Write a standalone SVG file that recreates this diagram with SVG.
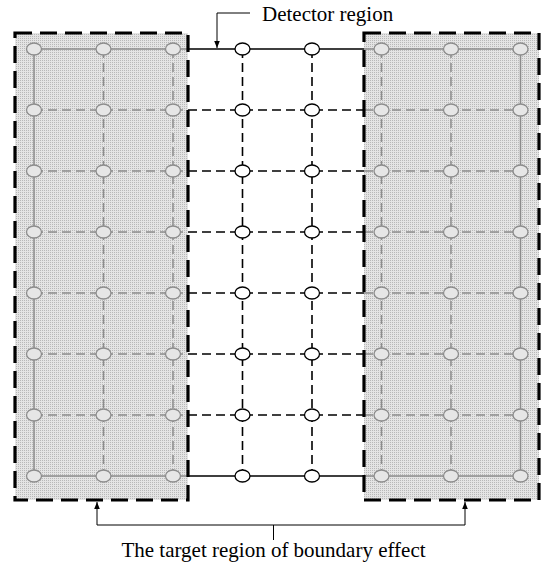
<svg xmlns="http://www.w3.org/2000/svg" width="547" height="570" viewBox="0 0 547 570">
<style>
.shade{fill:url(#dots);stroke:none}
.box{fill:none;stroke:#000;stroke-width:3.2;stroke-dasharray:17 8}
.gs{stroke:#8c8c8c;stroke-width:1.5;fill:none}
.gd{stroke:#8c8c8c;stroke-width:1.5;fill:none;stroke-dasharray:9 5}
.bs{stroke:#000;stroke-width:1.5;fill:none}
.bd{stroke:#000;stroke-width:1.6;fill:none;stroke-dasharray:9 5}
.gn{fill:#e6e6e6;stroke:#8c8c8c;stroke-width:1.3}
.wn{fill:#fff;stroke:#000;stroke-width:1.3}
.lead{stroke:#000;stroke-width:1;fill:none}
</style>
<defs>
<pattern id="dots" width="2" height="2" patternUnits="userSpaceOnUse">
<rect width="2" height="2" fill="#e4e4e4"/>
<rect width="1" height="1" fill="#b8b8b8"/>
</pattern>
<marker id="ah" viewBox="0 0 10 10" refX="10" refY="5" markerWidth="7" markerHeight="7" orient="auto" markerUnits="userSpaceOnUse">
<path d="M0,1 L10,5 L0,9 Z" fill="#000"/>
</marker>
</defs>
<rect width="547" height="570" fill="#fff"/>
<g id="boundary-left">
<rect class="shade" x="15" y="33" width="173" height="467"/>
</g>
<g id="boundary-right">
<rect class="shade" x="364" y="33" width="175" height="467"/>
</g>
<g id="connectors">
<path class="gs" d="M34,49 H188 M34,476 H188 M34,49 V476"/>
<path class="gd" d="M34,110 H188 M34,171 H188 M34,232 H188 M34,293 H188 M34,354 H188 M34,415 H188"/>
<path class="gd" d="M103.5,49 V476 M173,49 V476"/>
<path class="gs" d="M364,49 H520.5 M364,476 H520.5 M520.5,49 V476"/>
<path class="gd" d="M364,110 H520.5 M364,171 H520.5 M364,232 H520.5 M364,293 H520.5 M364,354 H520.5 M364,415 H520.5"/>
<path class="gd" d="M381.5,49 V476 M451,49 V476"/>
<path class="bs" d="M188,49 H364 M188,476 H364"/>
<path class="bd" d="M188,110 H364 M188,171 H364 M188,232 H364 M188,293 H364 M188,354 H364 M188,415 H364"/>
<path class="bd" d="M242.5,49 V476 M312,49 V476"/>
<path class="lead" d="M250,13 H217 V48" marker-end="url(#ah)"/>
<path class="lead" d="M273.5,540 V525 M97,525 H465"/>
<path class="lead" d="M97,525 V502" marker-end="url(#ah)"/>
<path class="lead" d="M465,525 V502" marker-end="url(#ah)"/>
</g>
<g id="boxes">
<rect class="box" x="15" y="33" width="173" height="467"/>
<rect class="box" x="364" y="33" width="175" height="467"/>
</g>
<g id="nodes-left">
<ellipse class="gn" cx="34" cy="49" rx="7.5" ry="6"/><ellipse class="gn" cx="103.5" cy="49" rx="7.5" ry="6"/><ellipse class="gn" cx="173" cy="49" rx="7.5" ry="6"/>
<ellipse class="gn" cx="34" cy="110" rx="7.5" ry="6"/><ellipse class="gn" cx="103.5" cy="110" rx="7.5" ry="6"/><ellipse class="gn" cx="173" cy="110" rx="7.5" ry="6"/>
<ellipse class="gn" cx="34" cy="171" rx="7.5" ry="6"/><ellipse class="gn" cx="103.5" cy="171" rx="7.5" ry="6"/><ellipse class="gn" cx="173" cy="171" rx="7.5" ry="6"/>
<ellipse class="gn" cx="34" cy="232" rx="7.5" ry="6"/><ellipse class="gn" cx="103.5" cy="232" rx="7.5" ry="6"/><ellipse class="gn" cx="173" cy="232" rx="7.5" ry="6"/>
<ellipse class="gn" cx="34" cy="293" rx="7.5" ry="6"/><ellipse class="gn" cx="103.5" cy="293" rx="7.5" ry="6"/><ellipse class="gn" cx="173" cy="293" rx="7.5" ry="6"/>
<ellipse class="gn" cx="34" cy="354" rx="7.5" ry="6"/><ellipse class="gn" cx="103.5" cy="354" rx="7.5" ry="6"/><ellipse class="gn" cx="173" cy="354" rx="7.5" ry="6"/>
<ellipse class="gn" cx="34" cy="415" rx="7.5" ry="6"/><ellipse class="gn" cx="103.5" cy="415" rx="7.5" ry="6"/><ellipse class="gn" cx="173" cy="415" rx="7.5" ry="6"/>
<ellipse class="gn" cx="34" cy="476" rx="7.5" ry="6"/><ellipse class="gn" cx="103.5" cy="476" rx="7.5" ry="6"/><ellipse class="gn" cx="173" cy="476" rx="7.5" ry="6"/>
</g>
<g id="nodes-detector">
<ellipse class="wn" cx="242.5" cy="49" rx="7.5" ry="6"/><ellipse class="wn" cx="312" cy="49" rx="7.5" ry="6"/>
<ellipse class="wn" cx="242.5" cy="110" rx="7.5" ry="6"/><ellipse class="wn" cx="312" cy="110" rx="7.5" ry="6"/>
<ellipse class="wn" cx="242.5" cy="171" rx="7.5" ry="6"/><ellipse class="wn" cx="312" cy="171" rx="7.5" ry="6"/>
<ellipse class="wn" cx="242.5" cy="232" rx="7.5" ry="6"/><ellipse class="wn" cx="312" cy="232" rx="7.5" ry="6"/>
<ellipse class="wn" cx="242.5" cy="293" rx="7.5" ry="6"/><ellipse class="wn" cx="312" cy="293" rx="7.5" ry="6"/>
<ellipse class="wn" cx="242.5" cy="354" rx="7.5" ry="6"/><ellipse class="wn" cx="312" cy="354" rx="7.5" ry="6"/>
<ellipse class="wn" cx="242.5" cy="415" rx="7.5" ry="6"/><ellipse class="wn" cx="312" cy="415" rx="7.5" ry="6"/>
<ellipse class="wn" cx="242.5" cy="476" rx="7.5" ry="6"/><ellipse class="wn" cx="312" cy="476" rx="7.5" ry="6"/>
</g>
<g id="nodes-right">
<ellipse class="gn" cx="381.5" cy="49" rx="7.5" ry="6"/><ellipse class="gn" cx="451" cy="49" rx="7.5" ry="6"/><ellipse class="gn" cx="520.5" cy="49" rx="7.5" ry="6"/>
<ellipse class="gn" cx="381.5" cy="110" rx="7.5" ry="6"/><ellipse class="gn" cx="451" cy="110" rx="7.5" ry="6"/><ellipse class="gn" cx="520.5" cy="110" rx="7.5" ry="6"/>
<ellipse class="gn" cx="381.5" cy="171" rx="7.5" ry="6"/><ellipse class="gn" cx="451" cy="171" rx="7.5" ry="6"/><ellipse class="gn" cx="520.5" cy="171" rx="7.5" ry="6"/>
<ellipse class="gn" cx="381.5" cy="232" rx="7.5" ry="6"/><ellipse class="gn" cx="451" cy="232" rx="7.5" ry="6"/><ellipse class="gn" cx="520.5" cy="232" rx="7.5" ry="6"/>
<ellipse class="gn" cx="381.5" cy="293" rx="7.5" ry="6"/><ellipse class="gn" cx="451" cy="293" rx="7.5" ry="6"/><ellipse class="gn" cx="520.5" cy="293" rx="7.5" ry="6"/>
<ellipse class="gn" cx="381.5" cy="354" rx="7.5" ry="6"/><ellipse class="gn" cx="451" cy="354" rx="7.5" ry="6"/><ellipse class="gn" cx="520.5" cy="354" rx="7.5" ry="6"/>
<ellipse class="gn" cx="381.5" cy="415" rx="7.5" ry="6"/><ellipse class="gn" cx="451" cy="415" rx="7.5" ry="6"/><ellipse class="gn" cx="520.5" cy="415" rx="7.5" ry="6"/>
<ellipse class="gn" cx="381.5" cy="476" rx="7.5" ry="6"/><ellipse class="gn" cx="451" cy="476" rx="7.5" ry="6"/><ellipse class="gn" cx="520.5" cy="476" rx="7.5" ry="6"/>
</g>
<g id="labels" font-family="'Liberation Serif', 'DejaVu Serif', serif" font-size="21" fill="#000">
<text x="262" y="21">Detector region</text>
<text x="273.5" y="557" text-anchor="middle">The target region of boundary effect</text>
</g>
</svg>
